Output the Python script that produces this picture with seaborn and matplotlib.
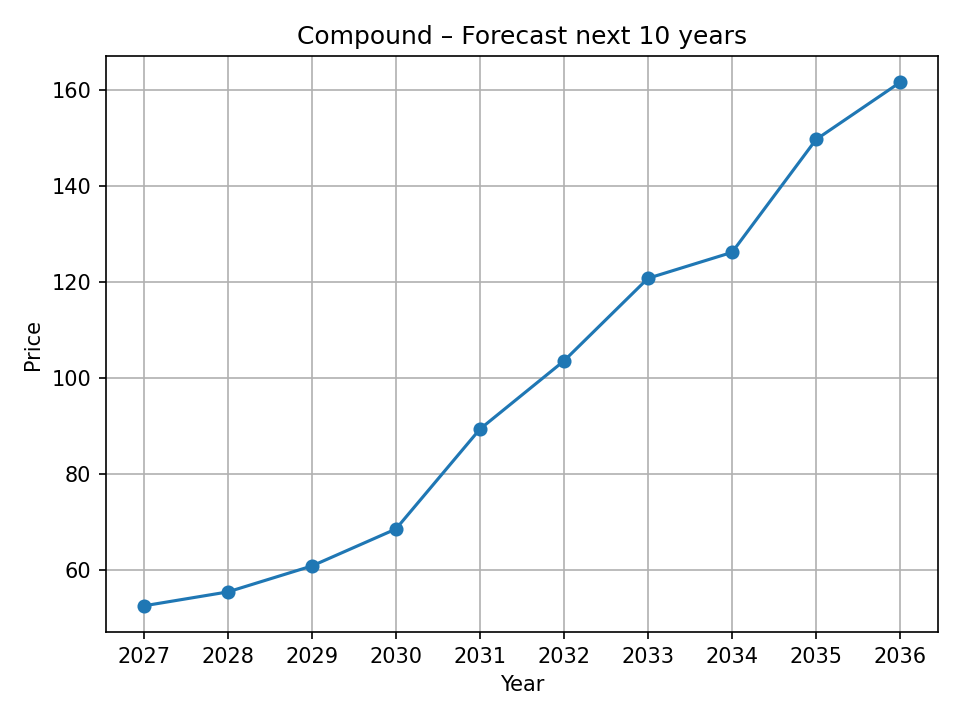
import matplotlib
matplotlib.use("Agg")
import matplotlib.pyplot as plt
import seaborn as sns

# Forecast values
years = [2027, 2028, 2029, 2030, 2031, 2032, 2033, 2034, 2035, 2036]
prices = [52.5, 55.4, 60.8, 68.5, 89.3, 103.5, 120.7, 126.1, 149.6, 161.5]

fig, ax = plt.subplots(figsize=(6.4, 4.8), dpi=150)
sns.lineplot(x=years, y=prices, marker="o", markersize=6, color="#1f77b4",
             markeredgecolor="#1f77b4", linewidth=1.5, ax=ax)
ax.set_xticks(years)
ax.set_title("Compound \u2013 Forecast next 10 years")
ax.set_xlabel("Year")
ax.set_ylabel("Price")
ax.grid(True)
fig.subplots_adjust(left=0.1104, right=0.977, top=0.922, bottom=0.1222)
fig.savefig("out.png", dpi=150)
